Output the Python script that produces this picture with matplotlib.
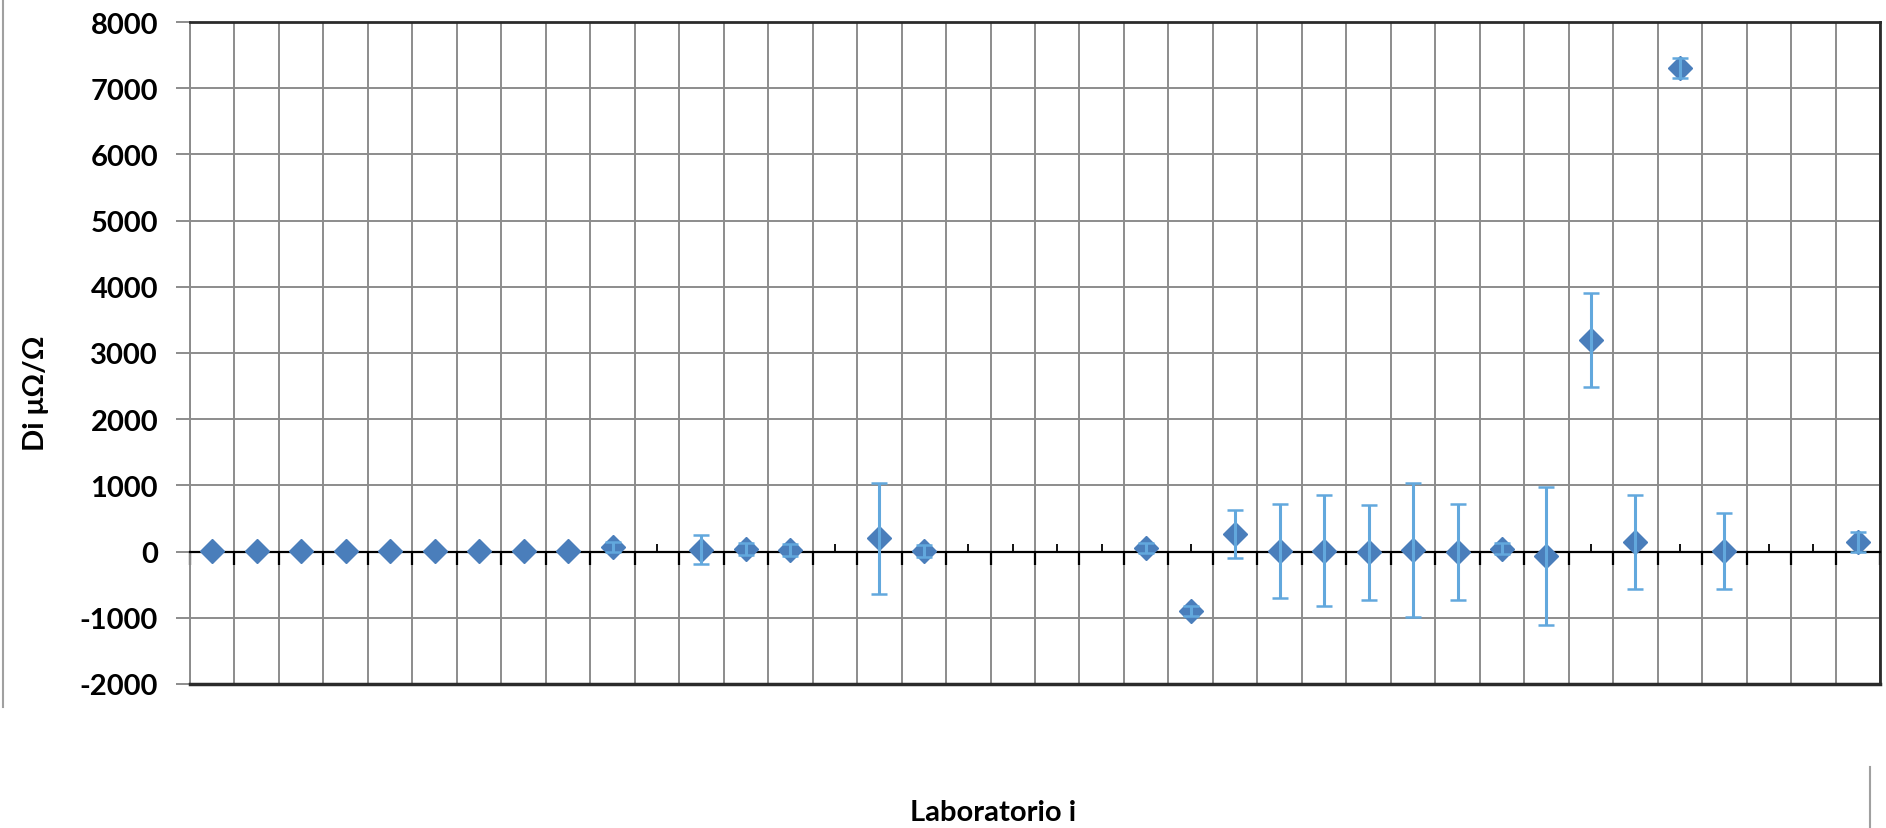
import numpy as np
import matplotlib
matplotlib.use('Agg')
from matplotlib import pyplot as plt
from matplotlib.lines import Line2D

plt.rcParams['font.family'] = ['Lato', 'DejaVu Sans']
plt.rcParams['font.weight'] = 'bold'
plt.rcParams['axes.unicode_minus'] = False

# 38 laboratories, some without a result
labs = [str(i) for i in range(1, 39)]
nan = np.nan
di = [5, 5, 5, 5, 5, 5, 5, 5, 5, 70,
      nan, 30, 45, 20, nan, 200, 5, nan, nan, nan,
      nan, 55, -900, 270, 10, 15, -10, 25, 0, 45,
      -70, 3200, 140, 7300, 10, nan, nan, 150]
ui = [0, 0, 0, 0, 0, 0, 0, 0, 0, 70,
      nan, 220, 90, 90, nan, 835, 90, nan, nan, nan,
      nan, 80, 80, 360, 710, 835, 715, 1010, 725, 80,
      1045, 710, 710, 150, 580, nan, nan, 150]

di = np.array(di, dtype=float)
ui = np.array(ui, dtype=float)
x = np.arange(len(labs))

grid_c = '#8C8C8C'
dark = '#2B2B2B'

fig = plt.figure(figsize=(18.86, 8.29), dpi=100)
ax = fig.add_axes([190 / 1886, 1 - 685 / 829, 1690 / 1886, 662 / 829])

ax.plot(x, di, ls='none', marker='D', ms=12, color='#4A7EBB', zorder=3)

m = np.isfinite(di) & (ui > 0)
eb = ax.errorbar(x[m], di[m], yerr=ui[m], fmt='none', ecolor='#62A8DD',
                 elinewidth=2.2, capsize=6, capthick=1.8, zorder=4)
for cap in eb[1]:
    cap.set_color('#3D6478')

ax.set_xlim(-0.5, len(labs) - 0.5)
ax.set_ylim(-2000, 8000)
ax.set_yticks(np.arange(-2000, 8001, 1000))
ax.set_xticks(np.arange(-0.5, len(labs), 1))
ax.set_xticks(x, minor=True)
ax.set_xticklabels([])
ax.set_xticklabels(labs, minor=True)

ax.set_axisbelow(True)
ax.grid(True, which='major', color=grid_c, lw=1.4)

ax.spines['bottom'].set_position(('data', 0))
ax.spines['bottom'].set_color('black')
ax.spines['bottom'].set_linewidth(1.6)
ax.spines['left'].set_color(grid_c)
ax.spines['left'].set_linewidth(1.4)
for s in ['top', 'right']:
    ax.spines[s].set_color(dark)
    ax.spines[s].set_linewidth(2)
ax.axhline(-2000, color=dark, lw=2.5, clip_on=False, zorder=2.6)

ax.tick_params(axis='x', which='major', direction='out', length=9, width=1.6,
               color='black', labelbottom=False)
ax.tick_params(axis='x', which='minor', direction='in', length=6, width=1.3,
               color='black', labelbottom=False)
ax.tick_params(axis='y', direction='out', length=10, width=1.4, color=grid_c,
               labelsize=21, pad=13)

fig.text(36 / 1886, 1 - 393 / 829, 'Di μΩ/Ω', rotation=90, fontsize=21,
         ha='center', va='center')
fig.text(993 / 1886, 1 - 813 / 829, 'Laboratorio i', fontsize=21,
         ha='center', va='center')

# fragments of the chart-area border
fig.add_artist(Line2D([3 / 1886, 3 / 1886], [1, 1 - 708 / 829], color='#A0A0A0', lw=1.5))
fig.add_artist(Line2D([1870 / 1886, 1870 / 1886], [1 - 768 / 829, 0], color='#A0A0A0', lw=1.5))

fig.savefig('out.png', dpi=100)
